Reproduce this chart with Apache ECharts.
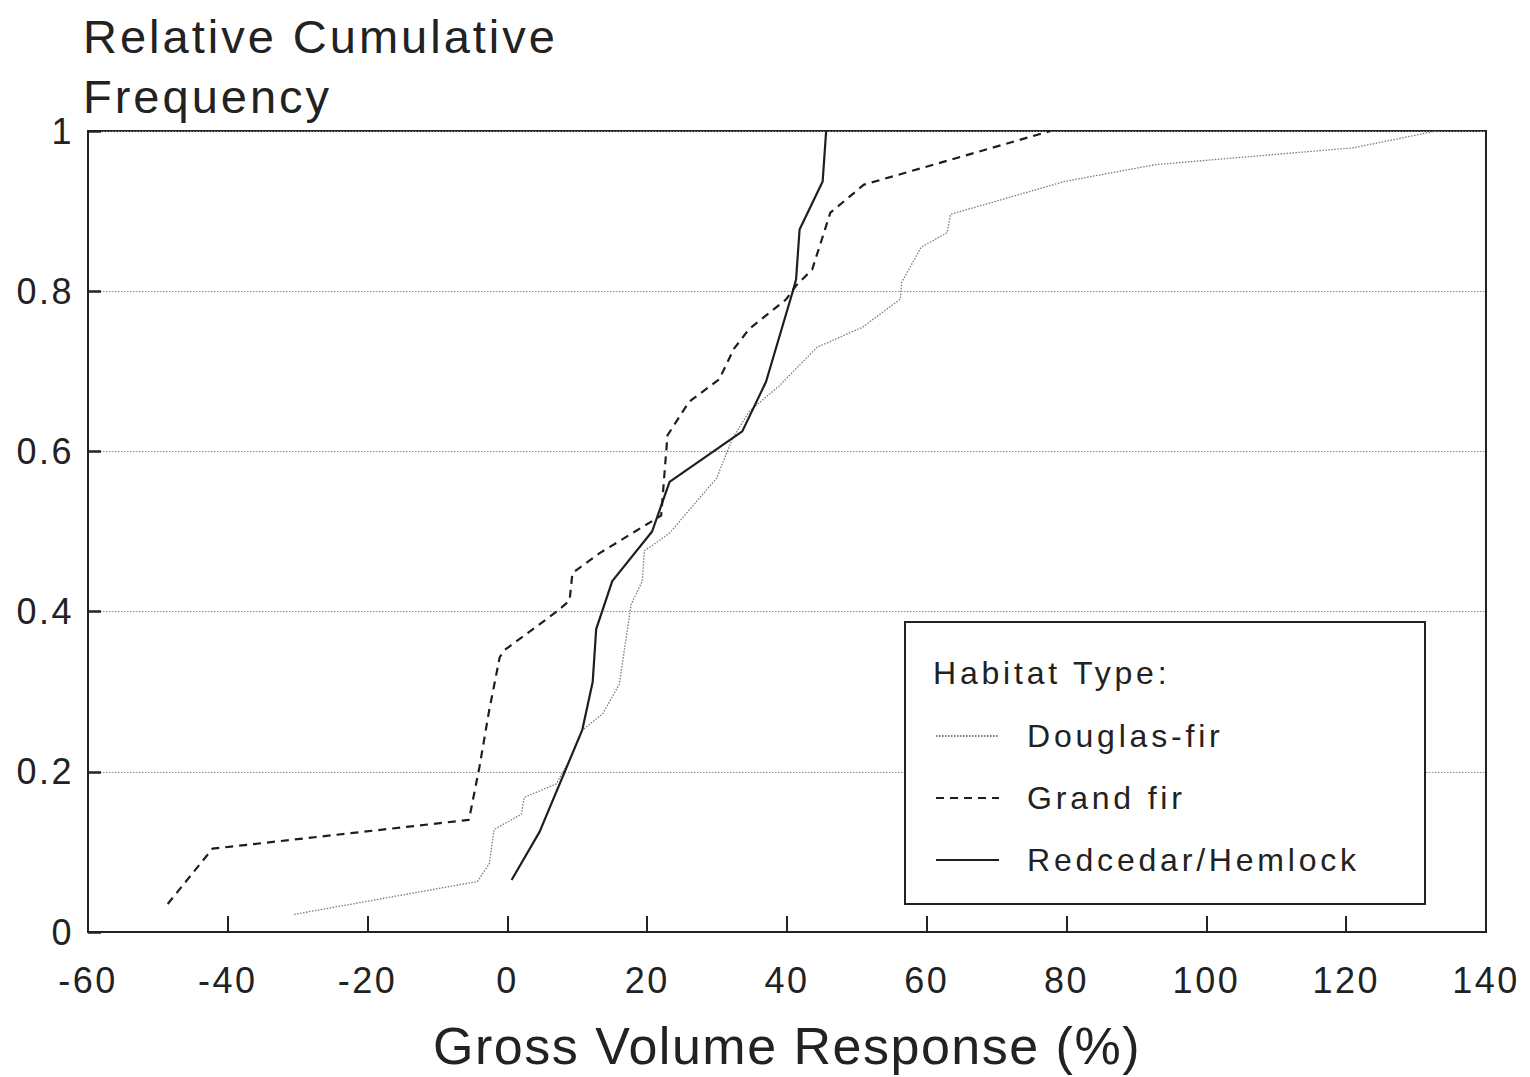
<!DOCTYPE html>
<html>
<head>
<meta charset="utf-8">
<script src="https://cdn.jsdelivr.net/npm/echarts@6/dist/echarts.min.js"></script>
<style>
  html, body { margin: 0; padding: 0; background: #ffffff; }
  #chart { width: 1530px; height: 1077px; }
  #chart text[style*="36px"] { letter-spacing: 2.5px; }
  #chart text[style*="32px"] { letter-spacing: 3.8px; }
  #chart text[style*="47px"] { letter-spacing: 3px; }
  #chart text[style*="52px"] { letter-spacing: 1.5px; }
</style>
</head>
<body>
<div id="chart"></div>
<script>
// ---- data (x = gross volume response %, y = relative cumulative frequency) ----
const xTicks = [-60, -40, -20, 0, 20, 40, 60, 80, 100, 120, 140];
const yTicks = [0, 0.2, 0.4, 0.6, 0.8, 1];
const seriesNames = ['Douglas-fir', 'Grand fir', 'Redcedar/Hemlock'];

const douglasFir = [
  [-30.5, 0.022], [-4.3, 0.063], [-2.6, 0.085], [-1.9, 0.128], [2.0, 0.147], [2.4, 0.168],
  [7.0, 0.185], [8.9, 0.215], [10.7, 0.252], [13.6, 0.272], [16.0, 0.309], [17.7, 0.409],
  [19.3, 0.438], [19.6, 0.476], [20.8, 0.483], [23.2, 0.498], [27.5, 0.542], [29.9, 0.566],
  [32.2, 0.616], [34.6, 0.65], [38.9, 0.682], [44.3, 0.73], [50.8, 0.755], [56.2, 0.79],
  [56.4, 0.811], [59.2, 0.855], [62.9, 0.873], [63.4, 0.896], [79.7, 0.937], [92.7, 0.958],
  [121.0, 0.979], [132.9, 1.0]
];
const grandFir = [
  [-48.6, 0.035], [-42.2, 0.104], [-5.5, 0.14], [-4.0, 0.206], [-2.6, 0.277], [-1.1, 0.343],
  [-0.4, 0.352], [7.2, 0.401], [8.9, 0.414], [9.3, 0.448], [13.2, 0.473], [20.7, 0.513],
  [22.0, 0.52], [22.9, 0.62], [26.0, 0.662], [30.3, 0.69], [32.4, 0.728], [34.6, 0.753],
  [39.9, 0.79], [41.3, 0.807], [43.6, 0.827], [46.2, 0.898], [51.0, 0.933], [77.7, 1.0]
];
const redcedarHemlock = [
  [0.6, 0.065], [4.6, 0.125], [10.7, 0.252], [12.2, 0.312], [12.7, 0.378], [15.0, 0.438],
  [20.7, 0.5], [23.2, 0.562], [33.6, 0.625], [37.0, 0.687], [40.8, 0.799], [41.3, 0.815],
  [41.8, 0.877], [45.1, 0.937], [45.6, 1.0]
];

const FONT = '"Liberation Sans", Arial, Helvetica, sans-serif';
const INK = '#222222';

const chart = echarts.init(document.getElementById('chart'), null, { renderer: 'svg' });

chart.setOption({
  backgroundColor: '#ffffff',
  animation: false,
  grid: {
    left: 88, right: 44, top: 131, bottom: 141,
    show: true, borderColor: '#222', borderWidth: 2, containLabel: false
  },
  xAxis: {
    type: 'value',
    min: xTicks[0], max: xTicks[xTicks.length - 1], interval: 20,
    name: 'Gross Volume Response (%)',
    nameLocation: 'middle', nameGap: 88,
    nameTextStyle: { fontFamily: FONT, fontSize: 52, color: INK },
    axisLine: { show: true, onZero: false, lineStyle: { color: '#222', width: 2 } },
    axisTick: { show: true, inside: true, length: 16, lineStyle: { color: '#222', width: 2 } },
    axisLabel: { fontFamily: FONT, fontSize: 36, color: INK, margin: 30 },
    splitLine: { show: false }
  },
  yAxis: {
    type: 'value',
    min: yTicks[0], max: yTicks[yTicks.length - 1], interval: 0.2,
    axisLine: { show: true, onZero: false, lineStyle: { color: '#222', width: 2 } },
    axisTick: { show: true, inside: true, length: 13, lineStyle: { color: '#222', width: 2.5 } },
    axisLabel: { fontFamily: FONT, fontSize: 36, color: INK, margin: 14 },
    splitLine: { show: true, lineStyle: { color: '#8a8a8a', width: 1, type: [1.5, 1.5] } }
  },
  legend: {
    show: true,
    orient: 'vertical',
    left: 930, top: 715,
    itemWidth: 63, itemHeight: 14, itemGap: 30,
    data: seriesNames,
    itemStyle: { color: 'transparent', borderColor: 'transparent', borderWidth: 0 },
    textStyle: { fontFamily: FONT, fontSize: 32, color: INK, padding: [0, 0, 0, 23] },
    selectedMode: false,
    z: 10
  },
  graphic: [
    {
      type: 'text', left: 83, top: 6, z: 10,
      style: { text: 'Relative Cumulative\nFrequency', font: '47px ' + FONT, fill: INK, lineHeight: 60 }
    },
    {
      type: 'rect', left: 904, top: 621, z: 5,
      shape: { width: 520, height: 282 },
      style: { fill: '#ffffff', stroke: '#222', lineWidth: 2 }
    },
    {
      type: 'text', left: 933, top: 657, z: 10,
      style: { text: 'Habitat Type:', font: '32px ' + FONT, fill: INK }
    }
  ],
  series: [
    {
      name: seriesNames[0], type: 'line', data: douglasFir, symbol: 'none', z: 3,
      lineStyle: { color: '#7a7a7a', width: 1.3, type: [1.5, 1.5] },
      itemStyle: { color: '#7a7a7a' }
    },
    {
      name: seriesNames[1], type: 'line', data: grandFir, symbol: 'none', z: 3,
      lineStyle: { color: '#1e1e1e', width: 2.2, type: [8, 6] },
      itemStyle: { color: '#1e1e1e' }
    },
    {
      name: seriesNames[2], type: 'line', data: redcedarHemlock, symbol: 'none', z: 3,
      lineStyle: { color: '#1e1e1e', width: 2.2, type: 'solid' },
      itemStyle: { color: '#1e1e1e' }
    }
  ]
});
</script>
</body>
</html>
